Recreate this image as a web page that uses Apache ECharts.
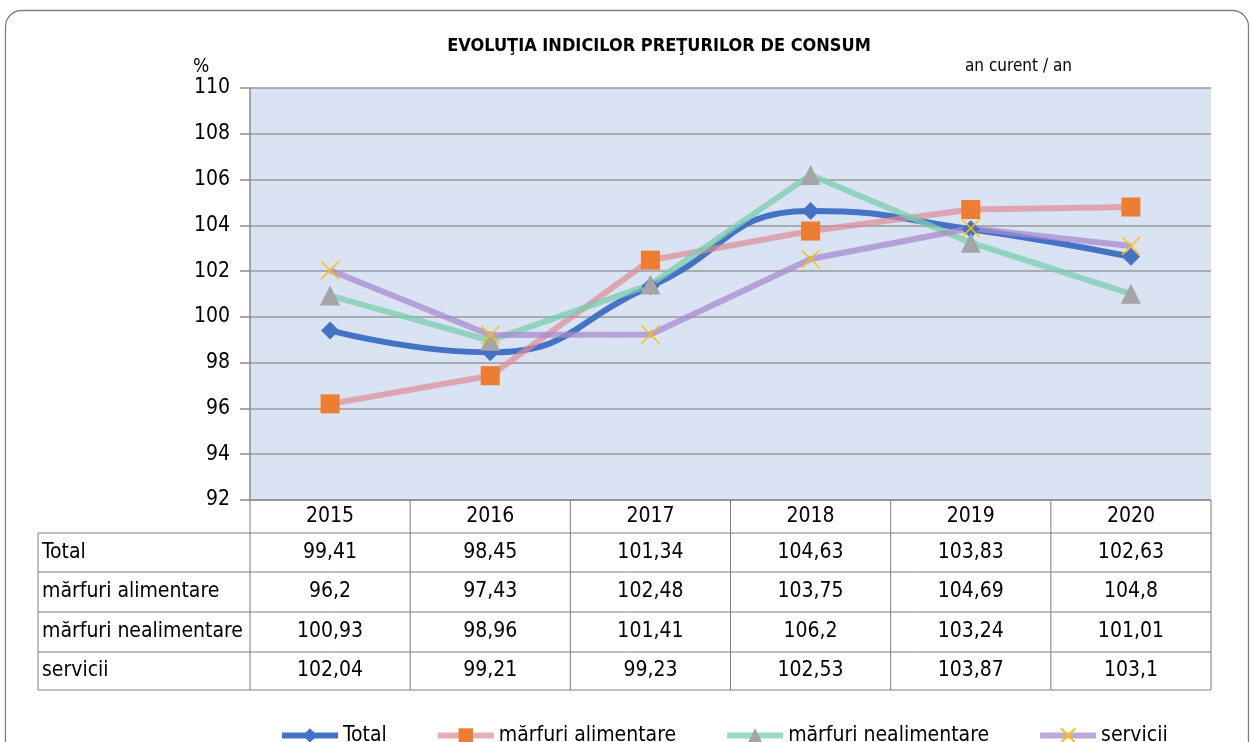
<!DOCTYPE html>
<html>
<head>
<meta charset="utf-8">
<script src="https://cdn.jsdelivr.net/npm/echarts@6/dist/echarts.min.js"></script>
<style>
  html, body { margin: 0; padding: 0; background: #fff; }
  #chart { width: 1251px; height: 742px; }
</style>
</head>
<body>
<div id="chart"></div>
<script>
  // datele graficului
  var years = ['2015', '2016', '2017', '2018', '2019', '2020'];
  var total = [99.41, 98.45, 101.34, 104.63, 103.83, 102.63];
  var alimentare = [96.2, 97.43, 102.48, 103.75, 104.69, 104.8];
  var nealimentare = [100.93, 98.96, 101.41, 106.2, 103.24, 101.01];
  var servicii = [102.04, 99.21, 99.23, 102.53, 103.87, 103.1];
  var rowNames = ['Total', 'mărfuri alimentare', 'mărfuri nealimentare', 'servicii'];

  var font = "'Liberation Sans Narrow', 'DejaVu Sans Condensed', 'Liberation Sans', sans-serif";

  var chart = echarts.init(document.getElementById('chart'));

  function fmt(v) {
    return String(v).replace('.', ',');
  }

  chart.setOption({
    backgroundColor: '#fff',
    animation: false,
    textStyle: { fontFamily: font },
    title: {
      text: 'EVOLUŢIA INDICILOR PREŢURILOR DE CONSUM',
      left: 654, top: 32, textAlign: 'center',
      textStyle: { fontFamily: font, fontSize: 18, fontWeight: 'bold', color: '#000' }
    },
    grid: { left: 250, right: 40, top: 88, bottom: 242, show: true, backgroundColor: '#DAE3F3', borderWidth: 0 },
    legend: {
      left: 274, top: 720,
      itemWidth: 56, itemHeight: 18, itemGap: 48,
      lineStyle: { width: 6 },
      textStyle: { fontFamily: font, fontSize: 21, color: '#000' },
      data: ['Total', 'mărfuri alimentare', 'mărfuri nealimentare', 'servicii']
    },
    xAxis: {
      type: 'category', data: years, boundaryGap: true,
      axisLine: { show: false }, axisTick: { show: false }, axisLabel: { show: false }
    },
    yAxis: {
      type: 'value', min: 92, max: 110, interval: 2,
      axisLine: { show: true, lineStyle: { color: '#8c8c8c', width: 1.5 } },
      axisTick: { show: true, length: 10, lineStyle: { color: '#8c8c8c', width: 1.5 } },
      axisLabel: { fontFamily: font, fontSize: 21, color: '#000', margin: 20 },
      splitLine: { lineStyle: { color: '#999', width: 1.5 } }
    },
    series: [
      {
        name: 'Total', type: 'line', data: total, smooth: 0.5,
        symbol: 'diamond', symbolSize: 18,
        lineStyle: { color: '#4472C4', width: 6 },
        itemStyle: { color: '#4472C4' }
      },
      {
        name: 'mărfuri alimentare', type: 'line', data: alimentare,
        symbol: 'rect', symbolSize: 19,
        lineStyle: { color: '#DC8C96', width: 6, opacity: 0.7 },
        itemStyle: { color: '#ED7D31' }
      },
      {
        name: 'mărfuri nealimentare', type: 'line', data: nealimentare,
        symbol: 'triangle', symbolSize: 20,
        lineStyle: { color: '#79CEAD', width: 6, opacity: 0.75 },
        itemStyle: { color: '#A5A5A5' }
      },
      {
        name: 'servicii', type: 'line', data: servicii,
        symbol: 'path://M0 0L20 20M20 0L0 20', symbolSize: 18,
        lineStyle: { color: '#A58BCF', width: 6, opacity: 0.75 },
        itemStyle: { color: 'none', borderColor: '#FFC000', borderWidth: 1.5 }
      }
    ]
  });

  // tabelul de sub grafic
  var rows = [total, alimentare, nealimentare, servicii];
  var rowEdges = [533, 572, 612, 652, 690];
  var headTop = 500;
  var tableLeft = 38;
  var lineColor = '#7f7f7f';
  var g = [];

  var x0 = chart.convertToPixel({ xAxisIndex: 0 }, years[0]);
  var x1 = chart.convertToPixel({ xAxisIndex: 0 }, years[1]);
  var band = x1 - x0;
  var left = x0 - band / 2;
  var right = chart.convertToPixel({ xAxisIndex: 0 }, years[years.length - 1]) + band / 2;

  // contur rotunjit
  g.push({ type: 'rect', shape: { x: 5.5, y: 10.5, width: 1243, height: 780, r: 16 },
    style: { fill: 'none', stroke: '#7f7f7f', lineWidth: 1.3 }, silent: true });

  g.push({ type: 'text', left: 193, top: 58, style: { text: '%', font: '19px ' + font, fill: '#000' } });
  g.push({ type: 'text', left: 965, top: 58, style: { text: 'an curent / an', font: '17px ' + font, fill: '#000' } });

  // linii orizontale
  g.push({ type: 'line', shape: { x1: left, y1: headTop, x2: right, y2: headTop }, style: { stroke: lineColor, lineWidth: 1 } });
  rowEdges.forEach(function (y) {
    g.push({ type: 'line', shape: { x1: tableLeft, y1: y, x2: right, y2: y }, style: { stroke: lineColor, lineWidth: 1 } });
  });
  // linii verticale
  g.push({ type: 'line', shape: { x1: tableLeft, y1: rowEdges[0], x2: tableLeft, y2: rowEdges[4] }, style: { stroke: lineColor, lineWidth: 1 } });
  for (var i = 0; i <= years.length; i++) {
    var xb = left + i * band;
    g.push({ type: 'line', shape: { x1: xb, y1: headTop, x2: xb, y2: rowEdges[4] }, style: { stroke: lineColor, lineWidth: 1 } });
  }

  // anii
  years.forEach(function (y) {
    var cx = chart.convertToPixel({ xAxisIndex: 0 }, y);
    g.push({ type: 'text', x: cx, y: (headTop + rowEdges[0]) / 2,
      style: { text: y, font: '21px ' + font, fill: '#000', align: 'center', verticalAlign: 'middle' } });
  });

  // randurile
  rows.forEach(function (vals, r) {
    var cy = (rowEdges[r] + rowEdges[r + 1]) / 2;
    g.push({ type: 'text', x: tableLeft + 4, y: cy,
      style: { text: rowNames[r], font: '21px ' + font, fill: '#000', align: 'left', verticalAlign: 'middle' } });
    vals.forEach(function (v, c) {
      var cx = chart.convertToPixel({ xAxisIndex: 0 }, years[c]);
      g.push({ type: 'text', x: cx, y: cy,
        style: { text: fmt(v), font: '21px ' + font, fill: '#000', align: 'center', verticalAlign: 'middle' } });
    });
  });

  chart.setOption({ graphic: g });
</script>
</body>
</html>
